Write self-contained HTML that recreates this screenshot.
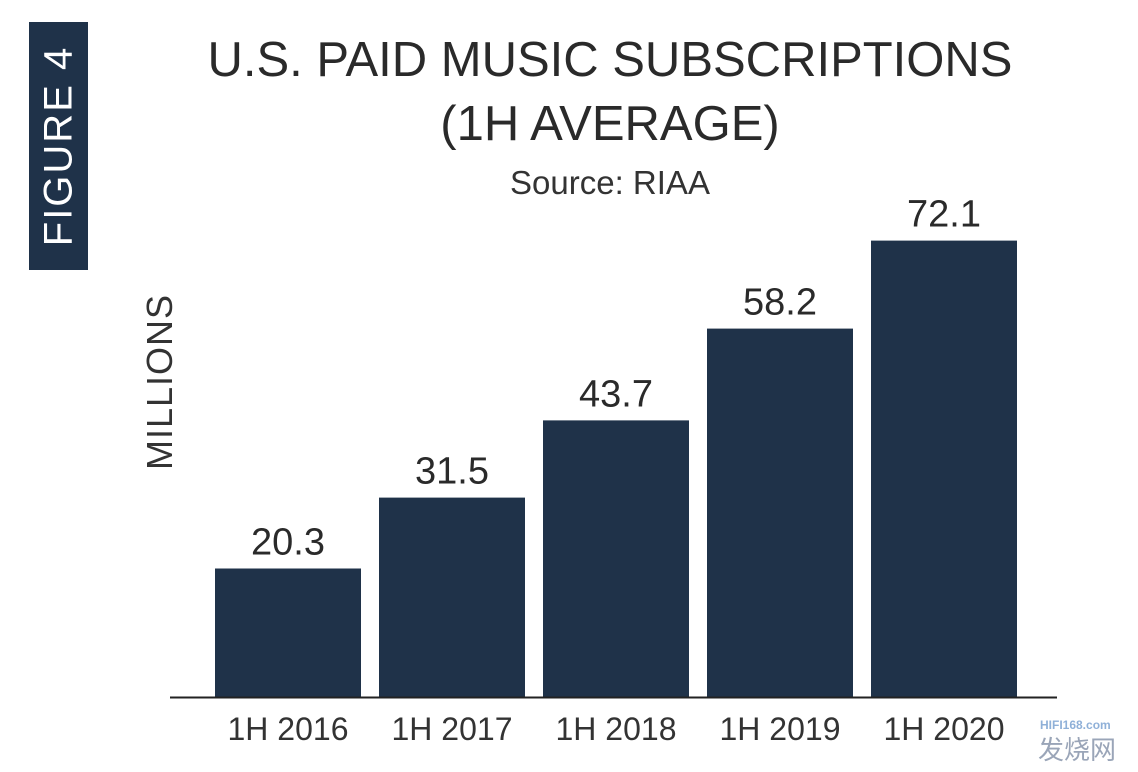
<!DOCTYPE html>
<html><head><meta charset="utf-8"><style>
body{margin:0;width:1138px;height:772px;background:#fff;overflow:hidden;position:relative;font-family:"Liberation Sans","Noto Sans CJK SC",sans-serif;color:#222}
.t{position:absolute;white-space:nowrap}
</style></head><body>
<div style="position:absolute;left:29px;top:22px;width:59px;height:248px;background:#1f3249"></div>
<div class="t" style="left:59px;top:146px;transform:translate(-50%,-50%) rotate(-90deg);color:#fff;font-size:40px;letter-spacing:2px">FIGURE 4</div>
<div class="t" style="left:0;width:1220px;top:28px;text-align:center;font-size:49px;line-height:64px;letter-spacing:0px;color:#2a2a2a">U.S. PAID MUSIC SUBSCRIPTIONS<br>(1H AVERAGE)</div>
<div class="t" style="left:0;width:1220px;top:164px;text-align:center;font-size:33px;color:#333">Source: RIAA</div>
<div class="t" style="left:160px;top:382px;transform:translate(-50%,-50%) rotate(-90deg);font-size:36px;color:#333;letter-spacing:1px">MILLIONS</div>
<svg id="c" width="1138" height="772" style="position:absolute;left:0;top:0"></svg>
<div class="t" style="left:1040px;top:718px;font-size:12px;color:#8fb0d8;font-weight:bold">HIFI168.com</div>
<div class="t" style="left:1038px;top:730px;font-size:26px;color:#9aa5b8">发烧网</div>
<script>
const categories=["1H 2016","1H 2017","1H 2018","1H 2019","1H 2020"];
const values=[20.3,31.5,43.7,58.2,72.1];
const labels=["20.3","31.5","43.7","58.2","72.1"];
const svg=document.getElementById('c');const NS="http://www.w3.org/2000/svg";
const base=697,k=6.33,x0=215,step=164,bw=146;
const y=v=>base-v*k;
const xp=i=>x0+i*step;
function mk(t,a){const e=document.createElementNS(NS,t);for(const q in a)e.setAttribute(q,a[q]);svg.appendChild(e);return e;}
values.forEach((v,i)=>{
const r=mk('rect',{x:xp(i),y:y(v),width:bw,height:base-y(v),fill:'#1f3249'});


const t=mk('text',{x:xp(i)+bw/2,y:y(v)-14,'text-anchor':'middle','font-size':38,fill:'#2a2a2a','font-family':'Liberation Sans'});t.textContent=labels[i];


const c=mk('text',{x:xp(i)+bw/2,y:740,'text-anchor':'middle','font-size':32,fill:'#333','font-family':'Liberation Sans'});c.textContent=categories[i];


});
const ax=mk('line',{x1:170,x2:1057,y1:base+0.5,y2:base+0.5,stroke:'#222','stroke-width':2});


</script>
</body></html>
